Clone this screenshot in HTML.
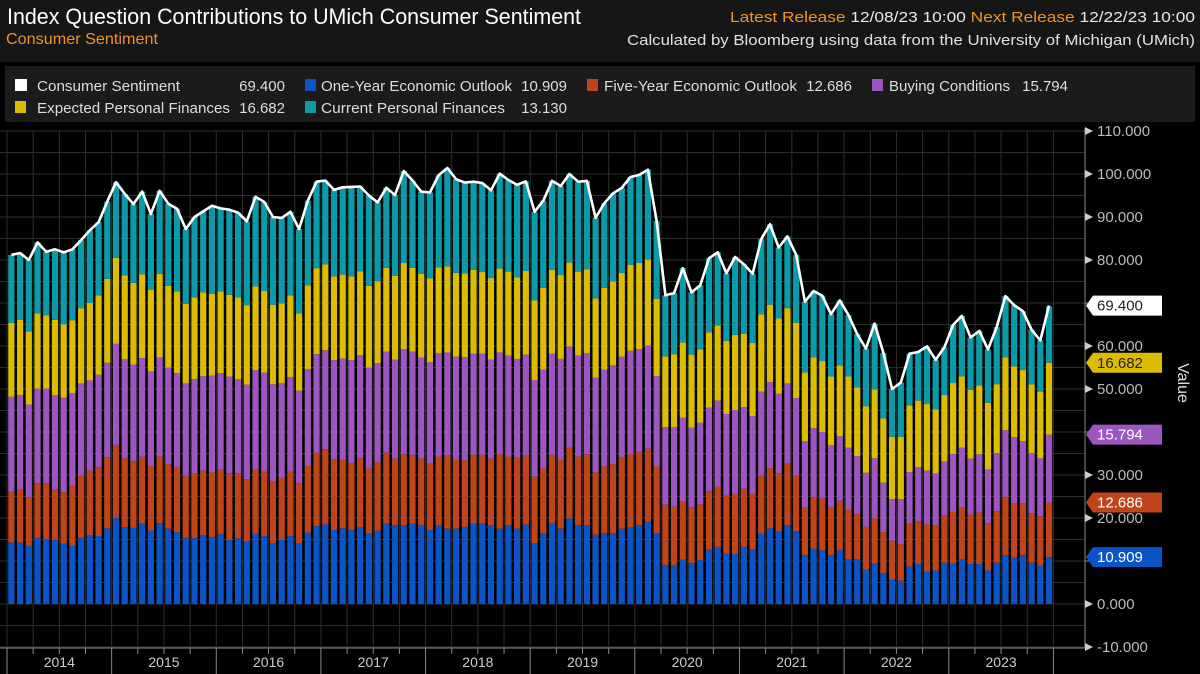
<!DOCTYPE html>
<html><head><meta charset="utf-8"><style>
html,body{margin:0;padding:0;background:#000;width:1200px;height:674px;overflow:hidden}
svg text{font-family:"Liberation Sans",sans-serif}
</style></head><body>
<svg id="chart" width="1200" height="674" xmlns="http://www.w3.org/2000/svg">
<rect x="0" y="0" width="1200" height="674" fill="#000"/>
<rect x="0" y="0" width="1200" height="62" fill="#161616"/>
<text x="7" y="24" font-size="22" fill="#fff" textLength="574" lengthAdjust="spacingAndGlyphs">Index Question Contributions to UMich Consumer Sentiment</text>
<text x="6" y="44" font-size="16" fill="#f0922b" textLength="152" lengthAdjust="spacingAndGlyphs">Consumer Sentiment</text>
<text x="1195" y="22" font-size="15" text-anchor="end" textLength="465" lengthAdjust="spacingAndGlyphs"><tspan fill="#f0922b">Latest Release</tspan><tspan fill="#e8e8e8"> 12/08/23 10:00 </tspan><tspan fill="#f0922b"> Next Release</tspan><tspan fill="#e8e8e8"> 12/22/23 10:00</tspan></text>
<text x="1195" y="45" font-size="15" fill="#e0e0e0" text-anchor="end" textLength="568" lengthAdjust="spacingAndGlyphs">Calculated by Bloomberg using data from the University of Michigan (UMich)</text>
<g>
<rect x="5" y="66" width="1190" height="56" fill="#1b1b1b"/>
<g><rect x="15" y="79" width="12" height="12" fill="#fff"/><text x="37" y="91" font-size="15" fill="#ddd" textLength="143" lengthAdjust="spacingAndGlyphs">Consumer Sentiment</text><text x="285" y="91" font-size="15" fill="#ddd" text-anchor="end">69.400</text></g>
<g><rect x="305" y="79" width="11" height="12" fill="#0b54c6"/><text x="321" y="91" font-size="15" fill="#ddd" textLength="191" lengthAdjust="spacingAndGlyphs">One-Year Economic Outlook</text><text x="567" y="91" font-size="15" fill="#ddd" text-anchor="end">10.909</text></g>
<g><rect x="587" y="79" width="11" height="12" fill="#c0441a"/><text x="604" y="91" font-size="15" fill="#ddd" textLength="193" lengthAdjust="spacingAndGlyphs">Five-Year Economic Outlook</text><text x="852" y="91" font-size="15" fill="#ddd" text-anchor="end">12.686</text></g>
<g><rect x="872" y="79" width="11" height="12" fill="#9b56c0"/><text x="889" y="91" font-size="15" fill="#ddd" textLength="121" lengthAdjust="spacingAndGlyphs">Buying Conditions</text><text x="1068" y="91" font-size="15" fill="#ddd" text-anchor="end">15.794</text></g>
<g><rect x="15" y="101" width="11" height="12" fill="#dcbc00"/><text x="37" y="113" font-size="15" fill="#ddd" textLength="193" lengthAdjust="spacingAndGlyphs">Expected Personal Finances</text><text x="285" y="113" font-size="15" fill="#ddd" text-anchor="end">16.682</text></g>
<g><rect x="305" y="101" width="11" height="12" fill="#0d9aa8"/><text x="321" y="113" font-size="15" fill="#ddd" textLength="184" lengthAdjust="spacingAndGlyphs">Current Personal Finances</text><text x="567" y="113" font-size="15" fill="#ddd" text-anchor="end">13.130</text></g>
</g>
<g id="grid"></g>
<g id="bars"></g>
<g id="line"></g>
<g id="axes"></g>
<text x="1178" y="383" font-size="16" fill="#ddd" text-anchor="middle" transform="rotate(90 1178 383)">Value</text>
</svg>
<script>
const years = ["2014","2015","2016","2017","2018","2019","2020","2021","2022","2023"];
const yTicks = [110,100,90,80,70,60,50,40,30,20,10,0,-10];
const yTickLabels = ["110.000","100.000","90.000","80.000","70.000","60.000","50.000","40.000","30.000","20.000","10.000","0.000","-10.000"];
const total = [81.2,81.6,80.0,84.1,81.9,82.5,81.8,82.5,84.6,86.9,88.8,93.6,
98.1,95.4,93.0,95.9,90.7,96.1,93.1,91.9,87.2,90.0,91.3,92.6,
92.0,91.7,91.0,89.0,94.7,93.5,90.0,89.8,91.2,87.2,93.8,98.2,
98.5,96.3,96.9,97.0,97.1,95.0,93.4,96.8,95.1,100.7,98.5,95.9,
95.7,99.7,101.4,98.8,98.0,98.2,97.9,96.2,100.1,98.6,97.5,98.3,
91.2,93.8,98.4,97.2,100.0,98.2,98.4,89.8,93.2,95.5,96.8,99.3,
99.8,101.0,89.1,71.8,72.3,78.1,72.5,74.1,80.4,81.8,76.9,80.7,
79.0,76.8,84.9,88.3,82.9,85.5,81.2,70.3,72.8,71.7,67.4,70.6,
67.2,62.8,59.4,65.2,58.4,50.0,51.5,58.2,58.6,59.9,56.8,59.7,
64.9,67.0,62.0,63.5,59.2,64.4,71.6,69.5,68.1,63.8,61.3,69.4];
const oneYear = [14.3,14.3,13.5,15.3,15.1,14.9,14.0,13.5,15.3,16.0,15.8,17.6,
20.0,17.9,17.7,18.7,17.1,18.8,17.5,16.7,15.3,15.3,16.0,15.6,
16.2,14.9,15.3,14.5,16.4,15.8,14.1,14.9,15.8,14.1,16.6,18.1,
18.5,17.2,17.6,17.2,17.9,16.5,17.0,18.7,18.3,18.3,18.7,18.3,
17.2,18.3,17.5,17.5,17.9,18.7,18.7,18.3,17.5,18.3,17.5,18.5,
14.1,16.5,18.7,17.5,19.9,18.3,18.3,16.1,16.5,16.5,17.5,17.9,
18.3,19.1,16.5,9.1,9.1,10.3,9.5,10.2,12.7,13.3,11.7,11.6,
13.3,12.7,16.4,17.6,16.9,18.3,16.9,11.4,12.9,12.5,11.4,12.5,
10.4,10.4,8.0,9.4,7.2,5.7,5.4,8.7,9.3,7.5,7.8,9.6,
9.4,10.4,9.3,9.3,7.8,9.6,11.4,10.8,11.4,9.6,8.9,10.9];
const fiveYear = [11.8,12.3,11.4,12.8,13.0,11.7,12.0,14.0,14.5,15.0,16.0,16.5,
17.0,16.0,15.5,15.5,15.0,15.5,15.0,15.0,14.5,15.0,15.0,15.0,
15.0,15.5,15.0,14.5,15.0,15.0,14.5,14.5,15.0,14.0,15.5,17.0,
17.5,16.5,16.0,15.5,16.0,15.0,16.0,16.5,15.5,16.5,16.0,15.5,
15.5,16.0,17.0,16.0,15.5,16.0,16.0,15.5,17.5,16.0,16.5,16.0,
15.5,15.0,16.0,16.0,16.5,16.0,16.5,14.5,15.5,16.0,16.5,17.0,
17.0,17.0,15.5,14.0,13.5,13.5,13.0,13.0,13.5,14.0,13.5,14.0,
13.5,13.0,13.5,14.0,13.5,14.5,13.0,11.0,12.0,12.0,11.0,11.5,
11.5,10.5,10.0,10.5,9.5,9.0,8.5,10.0,10.0,11.0,10.5,11.0,
12.0,12.0,11.5,12.0,11.0,12.0,13.5,12.5,12.0,11.5,11.5,12.7];
const buying = [22.1,22.0,21.5,22.0,22.0,22.0,22.0,21.5,21.5,21.0,21.5,22.0,
23.5,23.0,22.5,23.0,22.0,23.0,22.5,22.0,21.5,22.0,22.0,22.5,
22.5,22.5,22.0,22.0,23.0,23.0,22.5,22.0,22.0,21.5,22.5,23.0,
23.0,23.0,23.5,24.0,24.0,23.5,23.0,23.5,23.0,24.5,24.0,23.5,
23.5,24.0,24.0,24.0,24.0,23.5,23.5,23.0,23.5,23.5,23.0,23.5,
22.5,23.0,23.5,23.5,23.5,23.5,23.5,22.0,22.5,23.0,23.5,24.0,
24.0,24.0,21.0,18.0,18.5,19.5,18.5,19.0,19.5,20.0,19.0,19.5,
19.0,18.0,19.5,20.0,18.5,18.5,18.0,15.5,16.0,15.5,14.5,15.0,
14.5,13.5,12.5,14.0,11.5,9.7,10.5,12.0,12.5,12.5,12.0,12.5,
13.5,14.0,13.0,13.5,12.5,13.5,15.5,15.5,14.5,14.0,13.5,15.8];
const expected = [17.2,17.5,17.0,17.5,17.0,17.5,17.0,17.0,17.5,18.0,18.5,19.5,
20.0,19.5,19.0,19.5,19.0,19.5,19.0,19.0,18.5,19.0,19.5,19.0,
19.0,19.0,19.0,18.5,19.5,19.0,18.5,18.5,19.0,18.0,19.5,20.0,
20.0,19.5,19.5,19.5,19.5,19.0,19.0,19.5,19.5,20.0,19.5,19.5,
19.5,20.0,20.0,19.5,19.5,19.5,19.0,19.0,19.5,19.5,19.0,19.5,
18.5,19.0,19.5,19.5,19.5,19.5,19.5,18.5,19.0,19.5,19.5,20.0,
20.0,20.0,18.0,16.5,17.0,17.5,17.0,17.0,17.5,17.5,17.0,17.5,
17.0,17.0,18.0,18.0,17.5,17.5,17.5,16.0,16.5,16.5,16.0,16.5,
16.5,16.0,15.5,16.0,15.0,14.5,14.5,15.5,15.5,15.5,15.0,15.5,
16.5,16.5,16.0,16.0,15.5,16.0,17.0,16.5,16.5,16.0,15.5,16.7];
const current = [15.8,15.5,16.6,16.5,14.8,16.4,16.8,16.5,15.8,16.9,17.0,18.0,
17.6,19.0,18.3,19.2,17.6,19.3,19.1,19.2,17.4,18.7,18.8,20.5,
19.3,19.8,19.7,19.5,20.8,20.7,20.4,19.9,19.4,19.6,19.7,20.1,
19.5,20.1,20.3,20.8,19.7,21.0,18.4,18.6,18.8,21.4,20.3,19.1,
20.0,21.4,22.9,21.8,21.1,20.5,20.7,20.4,22.1,21.3,21.5,20.8,
20.6,20.3,20.7,20.7,20.6,20.9,20.6,18.7,19.7,20.5,19.8,20.4,
20.5,20.9,18.1,14.2,14.2,17.3,14.5,14.9,17.2,17.0,15.7,18.1,
16.2,16.1,17.5,18.7,16.5,16.7,15.8,16.4,15.4,15.2,14.5,15.1,
14.3,12.4,13.4,15.3,15.2,11.1,12.6,12.0,11.3,13.4,11.5,11.1,
13.5,14.1,12.2,12.7,12.4,13.3,14.2,14.2,13.7,12.7,11.9,13.13];

const NS="http://www.w3.org/2000/svg";
const X0=7, MW=8.72, AXX=1085, Y0=604, PPU=4.3, BOT=648;
const n = total.length;
function xMonth(i){return X0+(i+0.5)*MW;}
function yVal(v){return Y0-v*PPU;}
function mk(tag,attrs,parent){const e=document.createElementNS(NS,tag);for(const k in attrs)e.setAttribute(k,attrs[k]);parent.appendChild(e);return e;}

const grid=document.getElementById('grid');
for(let v=-10; v<=110; v+=5){
  const gl=mk('line',{x1:0,x2:AXX,y1:yVal(v),y2:yVal(v),stroke:'#2e2e2e','stroke-width':1},grid);
  
  
}
for(let q=0;q<=n/3;q++){
  const x=X0+q*3*MW;
  const gl=mk('line',{x1:x,x2:x,y1:131,y2:BOT,stroke:'#2e2e2e','stroke-width':1},grid);
  
  
}

const series=[
 {name:'one-year-outlook',data:oneYear,color:'#0b54c6'},
 {name:'five-year-outlook',data:fiveYear,color:'#c0441a'},
 {name:'buying-conditions',data:buying,color:'#9b56c0'},
 {name:'expected-finances',data:expected,color:'#dcbc00'},
 {name:'current-finances',data:current,color:'#0d9aa8'}];
const bars=document.getElementById('bars');
for(let i=0;i<n;i++){
  let cum=0;
  for(const s of series){
    const v=s.data[i];
    const r=mk('rect',{x:xMonth(i)-3.1,width:6.2,y:yVal(cum+v),height:v*PPU,fill:s.color},bars);
    
    
    cum+=v;
  }
}
const line=document.getElementById('line');
const pts=total.map((v,i)=>xMonth(i).toFixed(1)+','+yVal(v).toFixed(1)).join(' ');
const pl=mk('polyline',{points:pts,fill:'none',stroke:'#fff','stroke-width':2.6,'stroke-linejoin':'round'},line);



const axes=document.getElementById('axes');
const ya=mk('line',{x1:AXX,x2:AXX,y1:128,y2:BOT,stroke:'#888','stroke-width':1},axes);


const xa=mk('line',{x1:0,x2:AXX,y1:BOT,y2:BOT,stroke:'#888','stroke-width':1},axes);


const hidden=[70,40,10];
yTicks.forEach((v,k)=>{
  const y=yVal(v);
  mk('line',{x1:AXX,x2:AXX+6,y1:y,y2:y,stroke:'#888'},axes);
  if(hidden.indexOf(v)>=0) return;
  mk('path',{d:`M${AXX} ${y-4} L${AXX+8} ${y} L${AXX} ${y+4} Z`,fill:'#ccc'},axes);
  const t=mk('text',{x:AXX+12,y:y+5,'font-size':15,fill:'#bbb'},axes);
  t.textContent=yTickLabels[k];
  
  
});
for(let q=0;q<=n/3;q++){
  const x=X0+q*3*MW;
  const yr=q%4===0;
  mk('line',{x1:x,x2:x,y1:BOT,y2:yr?674:654,stroke:'#888'},axes);
}
years.forEach((yv,k)=>{
  const t=mk('text',{x:X0+(k*12+6)*MW,y:667,'font-size':14,fill:'#ccc','text-anchor':'middle'},axes);
  t.textContent=yv;
  
  
});

const last=n-1;
let c=0;
const tags=[];
series.forEach(s=>{c+=s.data[last];tags.push({v:c,color:s.color,name:s.name});});
const labelVals=[10.909,12.686,15.794,16.682,13.130];
tags.forEach((t,k)=>{t.label=labelVals[k].toFixed(3);});
tags.pop();
tags.push({v:total[last],label:total[last].toFixed(3),color:'#fff',name:'consumer-sentiment',dark:true});
tags.forEach(t=>{
  const y=yVal(t.v);
  const g=mk('g',{},axes);
  
  
  mk('path',{d:`M${AXX+1} ${y} L${AXX+8} ${y-10} L${AXX+77} ${y-10} L${AXX+77} ${y+10} L${AXX+8} ${y+10} Z`,fill:t.color},g);
  const tx=mk('text',{x:AXX+12,y:y+5,'font-size':15,fill:(t.dark||t.color==='#dcbc00')?'#222':'#fff'},g);
  tx.textContent=t.label;
});
</script>
</body></html>
